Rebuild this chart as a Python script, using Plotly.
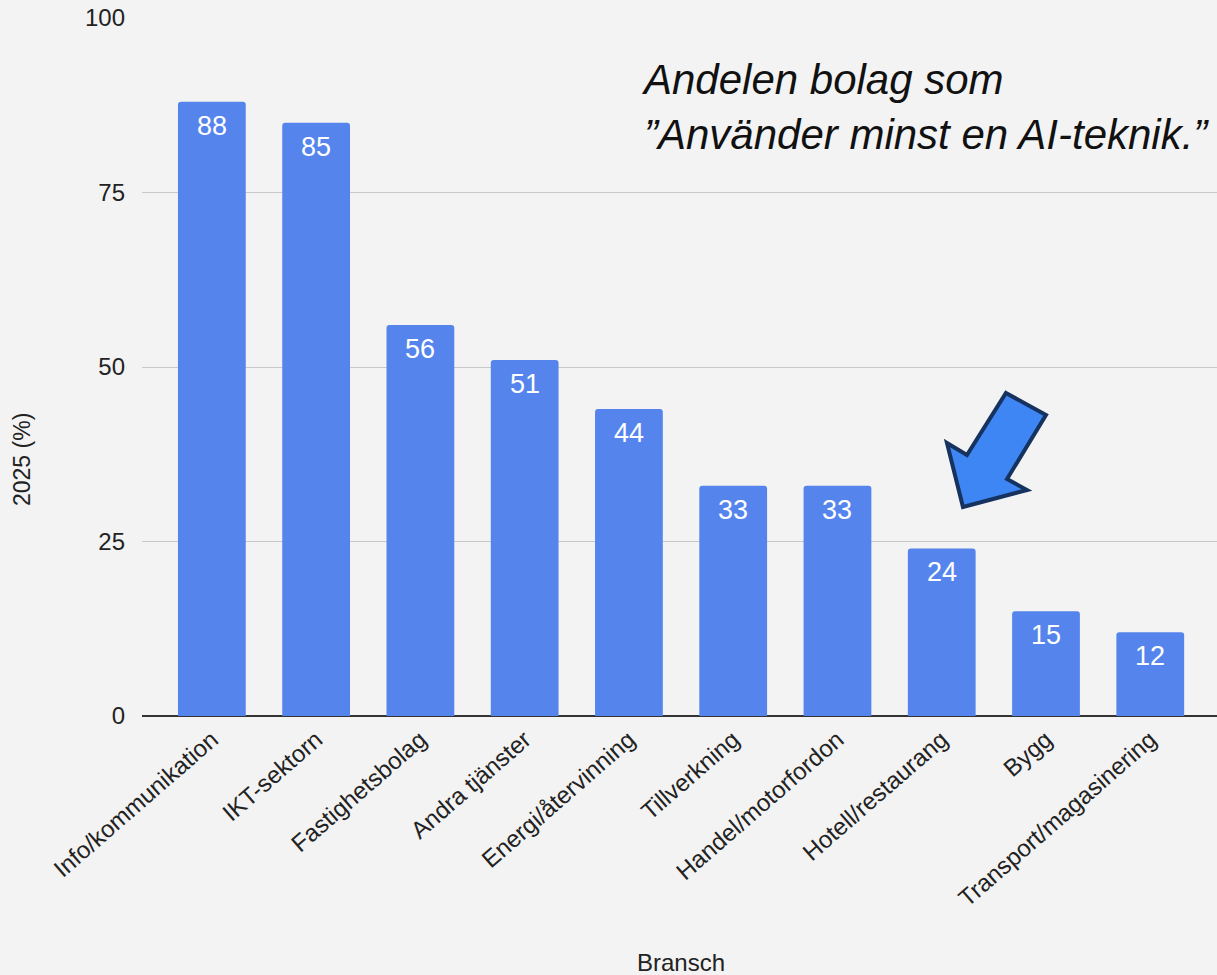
import plotly.graph_objects as go

categories = ["Info/kommunikation", "IKT-sektorn", "Fastighetsbolag", "Andra tjänster",
              "Energi/återvinning", "Tillverkning", "Handel/motorfordon", "Hotell/restaurang",
              "Bygg", "Transport/magasinering"]
values = [88, 85, 56, 51, 44, 33, 33, 24, 15, 12]
y_ticks = [0, 25, 50, 75, 100]

W, H = 1217, 975
L, R, T, B = 142, 0, 18, 259
FONT = "Arial, Liberation Sans, sans-serif"

fig = go.Figure(go.Bar(
    x=categories, y=values,
    marker=dict(color="#5585ec", line=dict(width=0), cornerradius=3),
    hoverinfo="x+y",
))

# value labels placed from the data
labels = [dict(x=c, y=v, xref="x", yref="y", text=str(v), showarrow=False,
               yanchor="middle", yshift=-24,
               font=dict(color="white", size=27, family=FONT))
          for c, v in zip(categories, values)]

# arrow polygon in pixel coords converted to paper
pw, ph = W - L - R, H - T - B
pts = [(1006, 393), (1046, 415), (1007, 479), (1027, 490), (963, 507), (947, 443), (967, 455)]
def px(p):
    return ((p[0] - L) / pw, (H - B - p[1]) / ph)
path = "M " + " L ".join(f"{px(p)[0]:.4f},{px(p)[1]:.4f}" for p in pts) + " Z"

fig.update_layout(
    width=W, height=H,
    margin=dict(l=L, r=R, t=T, b=B),
    paper_bgcolor="#f3f3f3", plot_bgcolor="#f3f3f3",
    font=dict(family=FONT, color="#222222"),
    bargap=0.35,
    showlegend=False,
    xaxis=dict(range=[-0.67, 9.64], tickangle=-41, tickfont=dict(size=24, color="#222"),
               showgrid=False, ticks="", showline=False, ticklabelstandoff=4),
    yaxis=dict(range=[0, 100], tickvals=y_ticks, tickfont=dict(size=24, color="#222"),
               gridcolor="#c8c8c8", gridwidth=1, zeroline=True, zerolinecolor="#333333",
               zerolinewidth=1.5, ticks="", ticklabelstandoff=16),
    shapes=[dict(type="path", xref="paper", yref="paper", path=path,
                 fillcolor="#3f86f5", line=dict(color="#16325f", width=4))],
    annotations=labels + [
        dict(text="<i>Andelen bolag som<br>”Använder minst en AI-teknik.”</i>",
             xref="paper", yref="paper", x=(639 - L) / pw, y=(H - B - 54) / ph,
             xanchor="left", yanchor="top", align="left", showarrow=False,
             font=dict(size=42, color="#111", family=FONT)),
        dict(text="2025 (%)", xref="paper", yref="paper", x=(22 - L) / pw,
             y=(H - B - 460) / ph, textangle=-90, showarrow=False,
             xanchor="center", yanchor="middle", font=dict(size=23, color="#222")),
        dict(text="Bransch", xref="paper", yref="paper", x=(681 - L) / pw,
             y=(H - B - 962) / ph, showarrow=False, xanchor="center", yanchor="middle",
             font=dict(size=24, color="#222")),
    ],
)

fig.write_html("out.html", config={"displayModeBar": False},
               post_script="document.body.style.margin='0';")
